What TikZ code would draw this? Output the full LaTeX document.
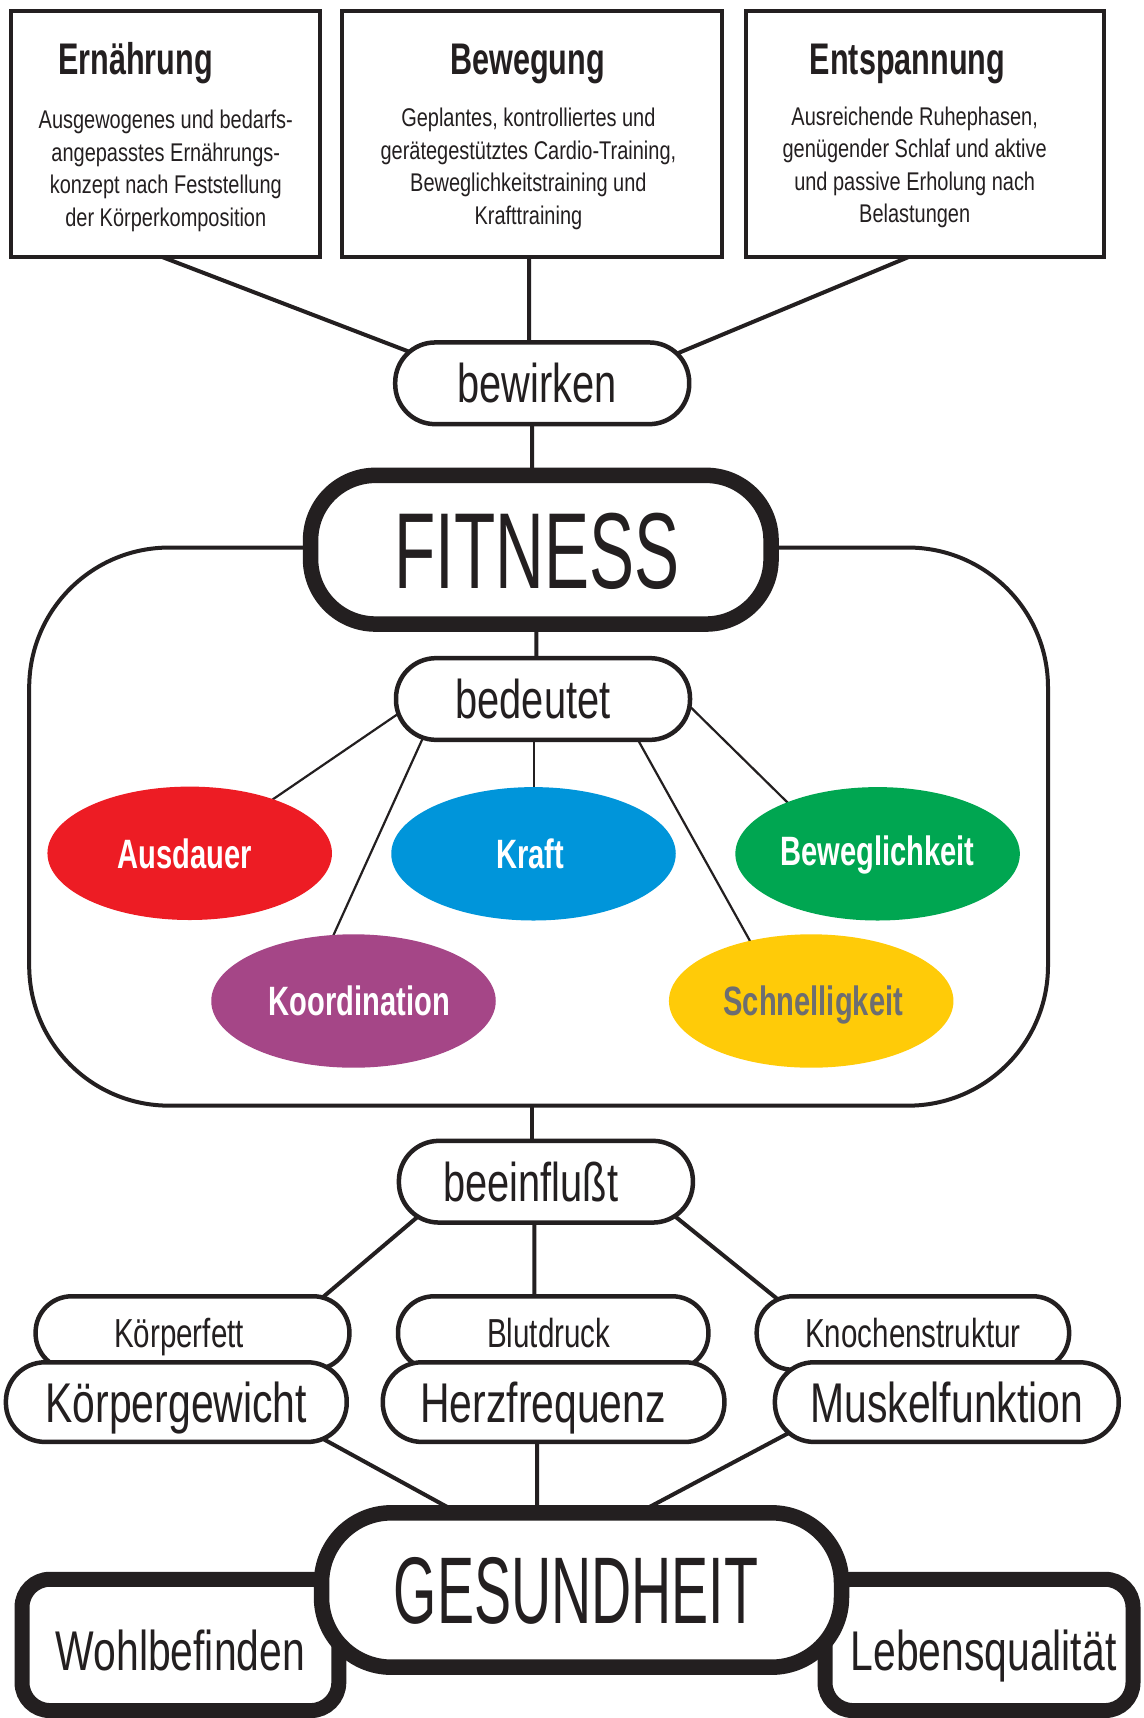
\documentclass[tikz,border=0pt]{standalone}
\usepackage{fontspec}
\setmainfont{Liberation Sans}
\newfontfamily\fLight{Liberation Sans}[FakeStretch=0.73]
\newfontfamily\fBody{Liberation Sans}[FakeStretch=0.78]
\newfontfamily\fFit{Liberation Sans}[FakeStretch=0.625]
\newfontfamily\fGes{Liberation Sans}[FakeStretch=0.587]
\newfontfamily\fTitle{Liberation Sans Bold}[FakeStretch=0.69]
\newfontfamily\fBold{Liberation Sans Bold}[FakeStretch=0.71]
\usetikzlibrary{shapes.geometric,calc}
\definecolor{ink}{HTML}{231F20}
\definecolor{cred}{HTML}{ED1C24}
\definecolor{cblue}{HTML}{0095DA}
\definecolor{cgreen}{HTML}{00A651}
\definecolor{cpurple}{HTML}{A54687}
\definecolor{cyellow}{HTML}{FFCB08}
\definecolor{cgray}{HTML}{6D6E71}
\pgfdeclarelayer{bg}
\pgfsetlayers{bg,main}
\begin{document}
\begin{tikzpicture}[x=1pt,y=-1pt,
  topbox/.style={draw=ink, line width=4pt, fill=white, inner sep=0pt, minimum height=246pt},
  titletext/.style={anchor=base, inner sep=0pt, text=ink, font=\fTitle\fontsize{44.3pt}{50pt}\selectfont},
  bodytext/.style={anchor=base, inner sep=0pt, align=center, text=ink, font=\fBody\fontsize{25.6pt}{32.6pt}\selectfont},
  pill/.style={draw=ink, line width=4.5pt, fill=white, rounded corners=40pt, minimum width=294pt, minimum height=81.7pt, inner sep=0pt, text=ink, font=\fLight\fontsize{54.5pt}{60pt}\selectfont, text height=39pt, text depth=0pt},
  bigpill/.style={draw=ink, line width=15.5pt, fill=white, inner sep=0pt, text=ink},
  smallpill/.style={draw=ink, line width=4.5pt, fill=white, rounded corners=36pt, minimum height=73.4pt, inner sep=0pt, text=ink, font=\fLight\fontsize{40.5pt}{45pt}\selectfont, text height=29pt, text depth=0pt},
  midpill/.style={draw=ink, line width=4.5pt, fill=white, rounded corners=39pt, minimum height=79.6pt, inner sep=0pt, text=ink, font=\fLight\fontsize{56pt}{60pt}\selectfont, text height=40.1pt, text depth=0pt},
  blob/.style={ellipse, inner sep=0pt, minimum width=284.5pt, minimum height=133.4pt, text=white, font=\fBold\fontsize{41pt}{45pt}\selectfont, text height=29.4pt, text depth=0pt},
  fbox/.style={draw=ink, line width=15pt, fill=white, rounded corners=28pt, inner sep=0pt, minimum height=131.3pt, text=ink, font=\fLight\fontsize{56pt}{60pt}\selectfont, text height=51.6pt, text depth=0pt},
  conn/.style={draw=ink, line width=4pt},
  thinconn/.style={draw=ink, line width=2.2pt}
]
\useasboundingbox (0,0) rectangle (1143,1718);

% top boxes
\node[topbox, minimum width=309.3pt] (box1) at (165.3,134.3) {};
\node[topbox, minimum width=379.4pt] (box2) at (532.1,134.3) {};
\node[topbox, minimum width=358.2pt] (box3) at (925.3,134.3) {};
\node[titletext] (t1) at (135.6,75) {Ernährung};
\node[titletext] (t2) at (527.7,75) {Bewegung};
\node[titletext] (t3) at (907.4,75) {Entspannung};
\node[bodytext] (b1) at (165.8,226.3) {Ausgewogenes und bedarfs-\\angepasstes Ernährungs-\\konzept nach Feststellung\\der Körperkomposition};
\node[bodytext] (b2) at (528.4,224.5) {Geplantes, kontrolliertes und\\gerätegestütztes Cardio-Training,\\Beweglichkeitstraining und\\Krafttraining};
\node[bodytext] (b3) at (914.7,222.8) {Ausreichende Ruhephasen,\\genügender Schlaf und aktive\\und passive Erholung nach\\Belastungen};

\node[pill] (bew) at (542.2,383.3) {bewirken\hspace*{10pt}};

% container and FITNESS
\node[draw=ink, line width=4pt, rounded corners=140pt, minimum width=1018.8pt, minimum height=558.1pt, inner sep=0pt] (cont) at (538.6,826.6) {};
\node[bigpill, rounded corners=65pt, minimum width=460.5pt, minimum height=148.7pt, font=\fFit\fontsize{108pt}{110pt}\selectfont, text height=77.3pt, text depth=0pt] (fit) at (540.8,549.7) {FITNESS\hspace*{8pt}};

\node[pill] (bed) at (543,699) {bedeutet\hspace*{20pt}};

\node[blob, fill=cred] (aus) at (189.7,853.3) {Ausdauer\hspace*{10pt}};
\node[blob, fill=cblue] (kraft) at (533.5,853.8) {Kraft\hspace*{7pt}};
\node[blob, fill=cgreen, text height=23.4pt] (bwg) at (877.6,853.8) {Beweglichkeit};
\node[blob, fill=cpurple] (koord) at (353.5,1001) {\hspace*{12pt}Koordination};
\node[blob, fill=cyellow, text=cgray] (schn) at (811.2,1001) {\hspace*{4pt}Schnelligkeit};

\node[pill] (bein) at (545.9,1181.7) {beeinflußt\hspace*{30pt}};

% upper pills
\node[smallpill, minimum width=313.8pt] (kf) at (192.5,1333) {Körperfett\hspace*{27pt}};
\node[smallpill, minimum width=310.4pt] (blut) at (553.2,1333) {Blutdruck\hspace*{9pt}};
\node[smallpill, minimum width=312.4pt] (kno) at (912.9,1333) {Knochenstruktur};
% lower pills
\node[midpill, minimum width=340.8pt] (kgew) at (176.3,1402.1) {Körpergewicht};
\node[midpill, minimum width=341.6pt] (herz) at (553.6,1402.1) {Herzfrequenz\hspace*{21pt}};
\node[midpill, minimum width=343.8pt] (musk) at (946.8,1402.1) {Muskelfunktion};

% bottom
\node[fbox, minimum width=316.8pt] (wohl) at (180.4,1644.9) {Wohlbefinden};
\node[fbox, minimum width=308pt] (leb) at (979,1644.9) {\hspace*{9pt}Lebensqualität};
\node[bigpill, rounded corners=70pt, minimum width=520pt, minimum height=154.4pt, font=\fGes\fontsize{94.7pt}{100pt}\selectfont, text height=67.8pt, text depth=0pt] (ges) at (581.5,1590) {GESUNDHEIT\hspace*{11pt}};

\begin{pgfonlayer}{bg}
\fill[white] (0,0) rectangle (1143,1718);
\draw[conn] ($(box1.center)+(-7.3,121.1)$) -- ($(bew.center)+(-128.2,-29.7)$);
\draw[conn] ($(box2.south)+(-3,-5)$) -- ($(bew.north)+(-13,5)$);
\draw[conn] ($(box3.center)+(-12.6,121)$) -- ($(bew.center)+(130.4,-27.9)$);
\draw[conn] ($(bew.south)+(-10,-5)$) -- ($(fit.north)+(-8.8,10)$);
\draw[conn] ($(fit.south)+(-4.4,-10)$) -- ($(bed.north)+(-6.6,5)$);
\draw[thinconn] ($(bed.center)+(-137.4,9.7)$) -- ($(aus.center)+(77.5,-50.1)$);
\draw[thinconn] ($(bed.center)+(-117.3,32.8)$) -- ($(koord.center)+(-23.2,-58.9)$);
\draw[thinconn] ($(bed.south)+(-8.7,-5)$) -- ($(kraft.north)+(0.8,5)$);
\draw[thinconn] ($(bed.center)+(91.5,34.7)$) -- ($(schn.center)+(-56.1,-50.9)$);
\draw[thinconn] ($(bed.center)+(139.9,0.6)$) -- ($(bwg.center)+(-85.7,-47)$);
\draw[conn] ($(cont.south)+(-6.6,-3)$) -- ($(bein.north)+(-13.9,5)$);
\draw[conn] ($(bein.center)+(-123.1,30.7)$) -- ($(kf.center)+(124.5,-30.8)$);
\draw[conn] ($(bein.south)+(-11.6,-5)$) -- ($(blut.north)+(-18.9,5)$);
\draw[conn] ($(bein.center)+(124,30.5)$) -- ($(kno.center)+(-128.8,-28.6)$);
\draw[conn] ($(kgew.center)+(136,30.9)$) -- ($(ges.center)+(-118.9,-74.6)$);
\draw[conn] ($(herz.south)+(-16.4,-5)$) -- ($(ges.north)+(-44.3,10)$);
\draw[conn] ($(musk.center)+(-146.1,24.5)$) -- ($(ges.center)+(54.6,-75.9)$);
\end{pgfonlayer}
\end{tikzpicture}
\end{document}
